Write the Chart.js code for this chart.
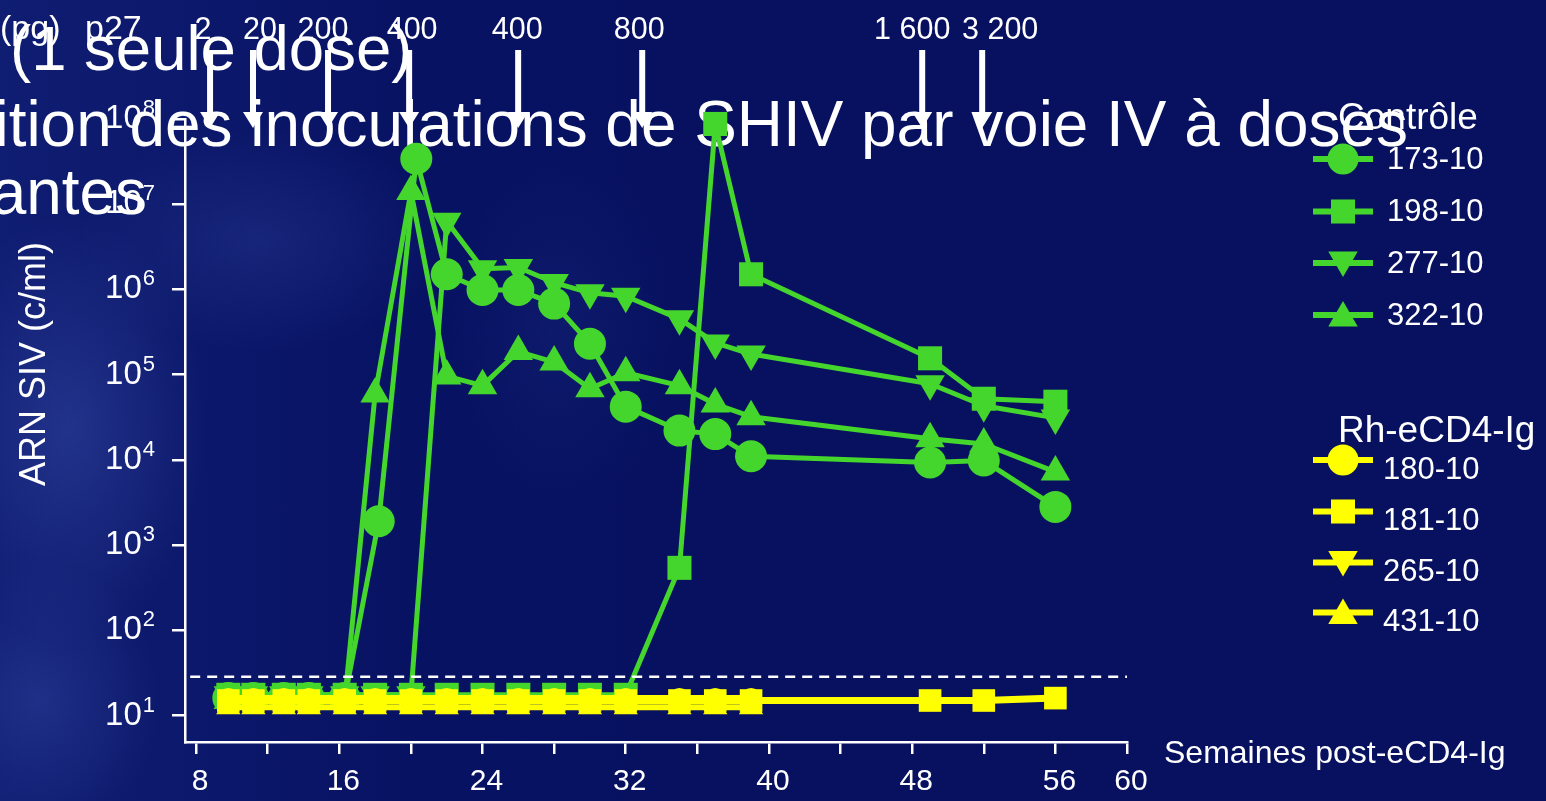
<!DOCTYPE html>
<html lang="fr">
<head>
<meta charset="utf-8">
<title>ARN SIV plasmatique</title>
<script src="https://cdn.jsdelivr.net/npm/chart.js@4.4.1/dist/chart.umd.min.js"></script>
<style>
  html, body { margin: 0; padding: 0; overflow: hidden; }
  body {
    width: 1546px;
    height: 801px;
    background:
      radial-gradient(ellipse 190px 300px at 70px 430px, rgba(80,105,200,0.30), rgba(80,105,200,0) 72%),
      radial-gradient(ellipse 260px 160px at 260px 240px, rgba(70,95,190,0.20), rgba(70,95,190,0) 70%),
      radial-gradient(ellipse 170px 200px at 40px 700px, rgba(80,105,200,0.25), rgba(80,105,200,0) 70%),
      radial-gradient(ellipse 160px 260px at 560px 330px, rgba(60,85,180,0.12), rgba(60,85,180,0) 70%),
      linear-gradient(90deg, #0f1d72 0px, #081263 420px, #071160 700px);
  }
  canvas { display: block; }
</style>
</head>
<body>
<canvas id="viral" width="1546" height="801"></canvas>
<script>
// sampling weeks after eCD4-Ig
var weeks = [9.8, 11.2, 12.9, 14.3, 16.3, 18, 20, 22, 24, 26, 28, 30, 32, 35, 37, 39, 49, 52, 56];
var weeks173 = [9.8, 11.2, 12.9, 14.3, 16.3, 18.2, 20.3, 22, 24, 26, 28, 30, 32, 35, 37, 39, 49, 52, 56];

// plasma SIV RNA (copies/ml), null = not sampled
var ctl173 = [16, 16, 16, 16, 16, 1.9e3, 3.4e7, 1.5e6, 9.8e5, 9.8e5, 6.8e5, 2.3e5, 4.2e4, 2.2e4, 2.0e4, 1.1e4, 9.3e3, 9.8e3, 2.8e3];
var ctl198 = [17.5, 17.5, 17.5, 17.5, 17.5, 17.5, 17.5, 17.5, 17.5, 17.5, 17.5, 17.5, 17.5, 540, 8.7e7, 1.5e6, 1.55e5, 5.2e4, 4.8e4];
var ctl277 = [17.5, 17.5, 17.5, 17.5, 17.5, 17.5, 17.5, 6.3e6, 1.74e6, 1.8e6, 1.2e6, 9.1e5, 8.3e5, 4.5e5, 2.35e5, 1.74e5, 7.8e4, 4.3e4, 3.1e4];
var ctl322 = [15, 15, 15, 15, 15, 5.9e4, 1.4e7, 9.6e4, 7.4e4, 1.86e5, 1.4e5, 6.8e4, 1.05e5, 7.4e4, 4.5e4, 3.2e4, 1.76e4, 1.53e4, 7.2e3];

var rh180 = [16, 16, 16, 16, 16, 16, 16, 16, 16, 16, 16, 16, 16, 16, 16, 16, null, null, null];
var rh181 = [15, 15, 15, 15, 15, 15, 15, 15, 15, 15, 15, 15, 15, 15, 15, 15, 15, 15, 16];
var rh265 = [15, 15, 15, 15, 15, 15, 15, 15, 15, 15, 15, 15, 15, null, null, null, null, null, null];
var rh431 = [12.5, 12.5, 12.5, 12.5, 12.5, 12.5, 12.5, 12.5, 12.5, 12.5, 12.5, 12.5, 12.5, 12.5, 12.5, 12.5, null, null, null];

// detection limit
var limitWeeks = [7.67, 60];
var limitValue = 28.5;

// SHIV inoculations: week, p27 dose (pg)
var doseWeeks = [8.78, 11.18, 15.37, 19.9, 25.99, 32.92, 48.56, 51.91];
var doseLabels = ['2', '20', '200', '400', '400', '800', '1 600', '3 200'];

var xTicks = [8, 12, 16, 20, 24, 28, 32, 36, 40, 44, 48, 52, 56, 60];
var xLabels = [8, 16, 24, 32, 40, 48, 56, 60];
var yExponents = [1, 2, 3, 4, 5, 6, 7, 8];

var GREEN = '#44d62c';
var YELLOW = '#ffff00';
var FONT = '"Liberation Sans", Arial, Helvetica, sans-serif';

function points(values, when) {
	var out = [];
	for (var i = 0; i < when.length; i++) {
		if (values[i] != null) out.push({x: when[i], y: values[i]});
	}
	return out;
}

function animal(label, values, color, style, radius, width, rotation, when) {
	return {
		label: label,
		data: points(values, when || weeks),
		borderColor: color,
		backgroundColor: color,
		borderWidth: width,
		borderJoinStyle: 'round',
		pointStyle: style,
		pointRadius: radius,
		pointRotation: rotation || 0,
		pointBackgroundColor: color,
		pointBorderWidth: 0,
		tension: 0,
		clip: false
	};
}

// legend groups
var groups = [
	{title: 'Contrôle', rows: [
		{label: '173-10', color: GREEN, style: 'circle', rot: 0},
		{label: '198-10', color: GREEN, style: 'rect', rot: 0},
		{label: '277-10', color: GREEN, style: 'triangle', rot: 180},
		{label: '322-10', color: GREEN, style: 'triangle', rot: 0}
	]},
	{title: 'Rh-eCD4-Ig', rows: [
		{label: '180-10', color: YELLOW, style: 'circle', rot: 0},
		{label: '181-10', color: YELLOW, style: 'rect', rot: 0},
		{label: '265-10', color: YELLOW, style: 'triangle', rot: 180},
		{label: '431-10', color: YELLOW, style: 'triangle', rot: 0}
	]}
];

function marker(ctx, style, x, y, r, rot) {
	ctx.beginPath();
	if (style === 'circle') {
		ctx.arc(x, y, r, 0, Math.PI * 2);
	} else if (style === 'rect') {
		var s = r * Math.SQRT1_2;
		ctx.rect(x - s, y - s, 2 * s, 2 * s);
	} else {
		var a = rot * Math.PI / 180;
		for (var k = 0; k < 3; k++) {
			var px = x + Math.sin(a) * r, py = y - Math.cos(a) * r;
			if (k === 0) ctx.moveTo(px, py); else ctx.lineTo(px, py);
			a += Math.PI * 2 / 3;
		}
		ctx.closePath();
	}
	ctx.fill();
}

var slideText = {
	id: 'slideText',
	beforeDraw: function(chart) {
		var ctx = chart.ctx;
		ctx.save();
		ctx.fillStyle = '#fff';
		ctx.textBaseline = 'alphabetic';
		ctx.textAlign = 'left';
		ctx.font = '63.5px ' + FONT;
		ctx.fillText('(1 seule dose)', 10, 70);
		ctx.textAlign = 'right';
		ctx.font = '63.9px ' + FONT;
		ctx.fillText('Répétition des inoculations de SHIV par voie IV à doses', 1408, 146);
		ctx.fillText('croissantes', 147, 214);
		ctx.restore();
	},
	afterDraw: function(chart) {
		var ctx = chart.ctx;
		var xs = chart.scales.x, ys = chart.scales.y;
		ctx.save();
		ctx.fillStyle = '#fff';
		ctx.strokeStyle = '#fff';

		// y tick labels 10^n
		ctx.textAlign = 'right';
		ctx.textBaseline = 'alphabetic';
		yExponents.forEach(function(e) {
			var y = ys.getPixelForValue(Math.pow(10, e));
			ctx.font = '22px ' + FONT;
			var sup = String(e);
			var w = ctx.measureText(sup).width;
			ctx.fillText(sup, 155, y - 4);
			ctx.font = '33px ' + FONT;
			ctx.fillText('10', 155 - w - 1, y + 9);
		});

		// y axis title
		ctx.save();
		ctx.translate(45, 364);
		ctx.rotate(-Math.PI / 2);
		ctx.textAlign = 'center';
		ctx.font = '36px ' + FONT;
		ctx.fillText('ARN SIV (c/ml)', 0, 0);
		ctx.restore();

		// x axis title
		ctx.textAlign = 'left';
		ctx.font = '32px ' + FONT;
		ctx.fillText('Semaines post-eCD4-Ig', 1164, 763);

		// dose header and arrows
		ctx.font = '34px ' + FONT;
		ctx.fillText('(pg)', 0, 39);
		ctx.fillText('p27', 85, 39);
		ctx.font = '30.5px ' + FONT;
		var labelShift = [-7, 7, -5, 3, -1, -3, -10, 18];
		ctx.textAlign = 'center';
		doseWeeks.forEach(function(w, i) {
			var x = xs.getPixelForValue(w);
			ctx.fillText(doseLabels[i], x + labelShift[i], 39);
			ctx.lineWidth = 6;
			ctx.beginPath();
			ctx.moveTo(x, 50);
			ctx.lineTo(x, 114);
			ctx.stroke();
			ctx.beginPath();
			ctx.moveTo(x - 10, 112);
			ctx.lineTo(x + 10, 112);
			ctx.lineTo(x, 128);
			ctx.closePath();
			ctx.fill();
		});

		// legend
		var headY = [129, 442];
		var rowY = [[159, 211.5, 263, 315], [460, 511.5, 562.5, 612.5]];
		var textX = [1387, 1383];
		var textDy = [1, 10];
		groups.forEach(function(g, gi) {
			ctx.fillStyle = '#fff';
			ctx.textAlign = 'left';
			ctx.textBaseline = 'alphabetic';
			ctx.font = '37px ' + FONT;
			ctx.fillText(g.title, 1338, headY[gi]);
			g.rows.forEach(function(row, ri) {
				var y = rowY[gi][ri];
				ctx.strokeStyle = row.color;
				ctx.fillStyle = row.color;
				ctx.lineWidth = 6;
				ctx.beginPath();
				ctx.moveTo(1313, y);
				ctx.lineTo(1373, y);
				ctx.stroke();
				var r = row.style === 'circle' ? 15.5 : 17;
				marker(ctx, row.style, 1343, row.style === 'triangle' ? y + (row.rot ? -3 : 3) : y, r, row.rot);
				ctx.fillStyle = '#fff';
				ctx.font = '31px ' + FONT;
				ctx.textBaseline = 'middle';
				ctx.fillText(row.label, textX[gi], y + textDy[gi]);
			});
		});
		ctx.restore();
	}
};

var datasets = [
	{
		label: 'limite',
		data: limitWeeks.map(function(w) { return {x: w, y: limitValue}; }),
		borderColor: '#fff',
		borderWidth: 2.5,
		borderDash: [10, 7],
		pointRadius: 0,
		clip: false
	},
	animal('181-10', rh181, YELLOW, 'rect', 16, 7),
	animal('180-10', rh180, YELLOW, 'circle', 10, 6),
	animal('265-10', rh265, YELLOW, 'triangle', 12, 6, 180),
	animal('431-10', rh431, YELLOW, 'triangle', 14, 6),
	animal('198-10', ctl198, GREEN, 'rect', 17, 5),
	animal('173-10', ctl173, GREEN, 'circle', 16, 5, 0, weeks173),
	animal('277-10', ctl277, GREEN, 'triangle', 17, 5, 180),
	animal('322-10', ctl322, GREEN, 'triangle', 17, 5)
];

var chart = new Chart(document.getElementById('viral'), {
	type: 'line',
	data: {datasets: datasets},
	options: {
		responsive: false,
		animation: false,
		events: [],
		layout: {padding: {top: 118.8, right: 419, left: 0, bottom: 0}},
		plugins: {legend: {display: false}, tooltip: {enabled: false}},
		scales: {
			x: {
				type: 'linear',
				min: 7.38,
				max: 60,
				afterFit: function(scale) { scale.height = 59; },
				afterBuildTicks: function(scale) {
					scale.ticks = xTicks.map(function(v) { return {value: v}; });
				},
				ticks: {
					autoSkip: false,
					maxRotation: 0,
					color: '#fff',
					padding: 10,
					labelOffset: 4,
					font: {family: FONT, size: 30},
					callback: function(v) { return xLabels.indexOf(v) >= 0 ? String(v) : ''; }
				},
				grid: {drawOnChartArea: false, color: '#fff', lineWidth: 2.5, tickLength: 12},
				border: {color: '#fff', width: 2.5}
			},
			y: {
				type: 'logarithmic',
				min: 4.89,
				max: 1e8,
				afterFit: function(scale) { scale.width = 185; },
				afterBuildTicks: function(scale) {
					scale.ticks = yExponents.map(function(e) { return {value: Math.pow(10, e)}; });
				},
				ticks: {display: false},
				grid: {drawOnChartArea: false, color: '#fff', lineWidth: 2.5, tickLength: 13},
				border: {color: '#fff', width: 2.5}
			}
		}
	},
	plugins: [slideText]
});
</script>
</body>
</html>
